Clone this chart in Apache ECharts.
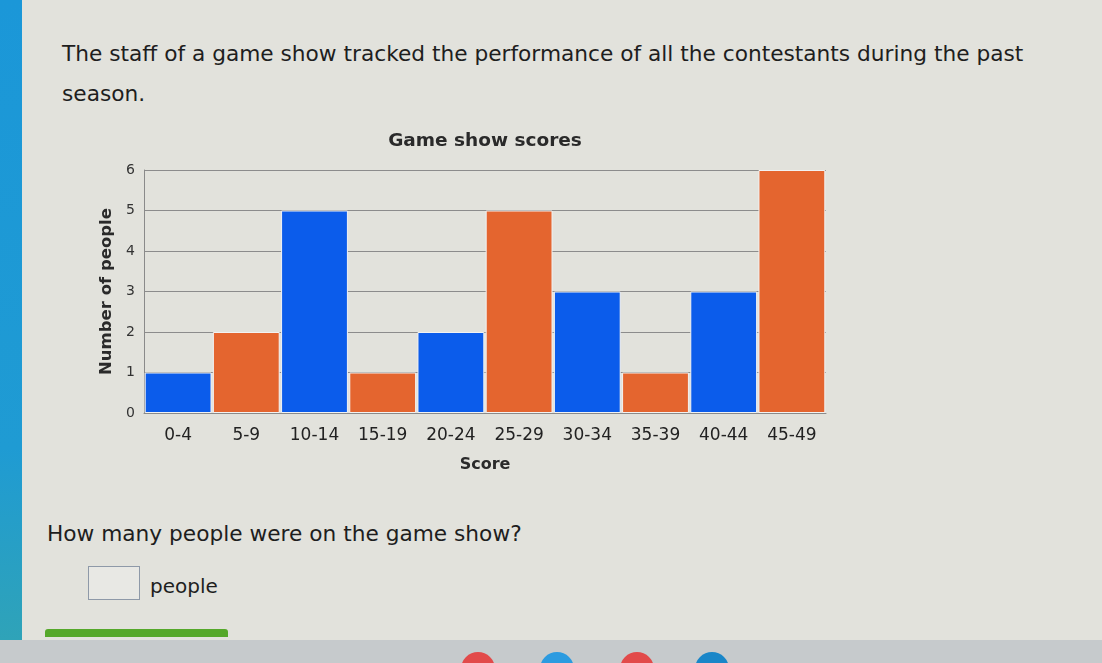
<!DOCTYPE html>
<html>
<head>
<meta charset="utf-8">
<script src="https://cdn.jsdelivr.net/npm/echarts@6/dist/echarts.min.js"></script>
<style>
  html, body { margin: 0; padding: 0; }
  body { width: 1102px; height: 663px; position: relative; overflow: hidden; background: #e2e2dc; font-family: "DejaVu Sans", Verdana, sans-serif; color: #1e1e1e; }
  .side { position: absolute; left: 0; top: 0; width: 22px; height: 640px; background: linear-gradient(#1b97d8, #1f9bd3 70%, #2fa3b8); }
  .intro { position: absolute; left: 62px; top: 34px; width: 1000px; font-size: 21.7px; line-height: 40px; }
  .question { position: absolute; left: 47px; top: 521px; font-size: 21.7px; }
  .answer { position: absolute; left: 88px; top: 566px; width: 50px; height: 32px; border: 1.5px solid #8e99a8; background: #e8e8e4; }
  .unit { position: absolute; left: 150px; top: 574px; font-size: 20px; }
  .progress { position: absolute; left: 45px; top: 629px; width: 183px; height: 8px; border-radius: 3px 3px 0 0; background: #55a82a; }
  .footer { position: absolute; left: 0; top: 640px; width: 1102px; height: 23px; background: #c6cacc; }
  .dot { position: absolute; top: 652px; width: 34px; height: 34px; border-radius: 50%; }
  #chart { position: absolute; left: 90px; top: 120px; width: 760px; height: 370px; }
</style>
</head>
<body>
<div class="side"></div>
<div class="intro">The staff of a game show tracked the performance of all the contestants during the past season.</div>
<div id="chart"></div>
<div class="question">How many people were on the game show?</div>
<div class="answer"></div>
<div class="unit">people</div>
<div class="progress"></div>
<div class="footer"></div>
<div class="dot" style="left:461px;background:#e24a4a"></div>
<div class="dot" style="left:540px;background:#2c9be0"></div>
<div class="dot" style="left:620px;background:#e24a4a"></div>
<div class="dot" style="left:695px;background:#1a86c8"></div>
<script>
const scoreRanges = ['0-4', '5-9', '10-14', '15-19', '20-24', '25-29', '30-34', '35-39', '40-44', '45-49'];
const peopleCounts = [1, 2, 5, 1, 2, 5, 3, 1, 3, 6];
const barColors = ['#0b5ceb', '#e4652f'];

const chart = echarts.init(document.getElementById('chart'), null, { renderer: 'canvas' });
chart.setOption({
  animation: false,
  title: {
    text: 'Game show scores',
    left: 390,
    top: 7,
    textAlign: 'center',
    textStyle: { fontFamily: 'DejaVu Sans', fontSize: 18.5, fontWeight: 'bold', color: '#2a2a2a' }
  },
  grid: { left: 54, top: 50, width: 682, height: 243, outerBoundsMode: 'none', containLabel: false },
  xAxis: {
    type: 'category',
    data: scoreRanges,
    name: 'Score',
    nameLocation: 'middle',
    nameGap: 44,
    nameTextStyle: { fontFamily: 'DejaVu Sans', fontSize: 16, fontWeight: 'bold', color: '#2a2a2a' },
    axisLine: { show: true, lineStyle: { color: '#8a8a8a' } },
    axisTick: { show: false },
    axisLabel: { margin: 14, fontFamily: 'DejaVu Sans', fontSize: 17, color: '#222' }
  },
  yAxis: {
    type: 'value',
    min: 0,
    max: 6,
    interval: 1,
    name: 'Number of people',
    nameLocation: 'middle',
    nameGap: 28,
    nameTextStyle: { fontFamily: 'DejaVu Sans', fontSize: 16.5, fontWeight: 'bold', color: '#2a2a2a' },
    axisLine: { show: true, lineStyle: { color: '#8a8a8a' } },
    axisTick: { show: false },
    axisLabel: { margin: 9, fontFamily: 'DejaVu Sans', fontSize: 14, color: '#333' },
    splitLine: { lineStyle: { color: '#8c8c8c', width: 1 } }
  },
  series: [{
    type: 'bar',
    barCategoryGap: '2%',
    data: peopleCounts.map((v, i) => ({ value: v, itemStyle: { color: barColors[i % 2] } })),
    itemStyle: { borderColor: '#f2f2f2', borderWidth: 1 }
  }]
});
</script>
</body>
</html>
